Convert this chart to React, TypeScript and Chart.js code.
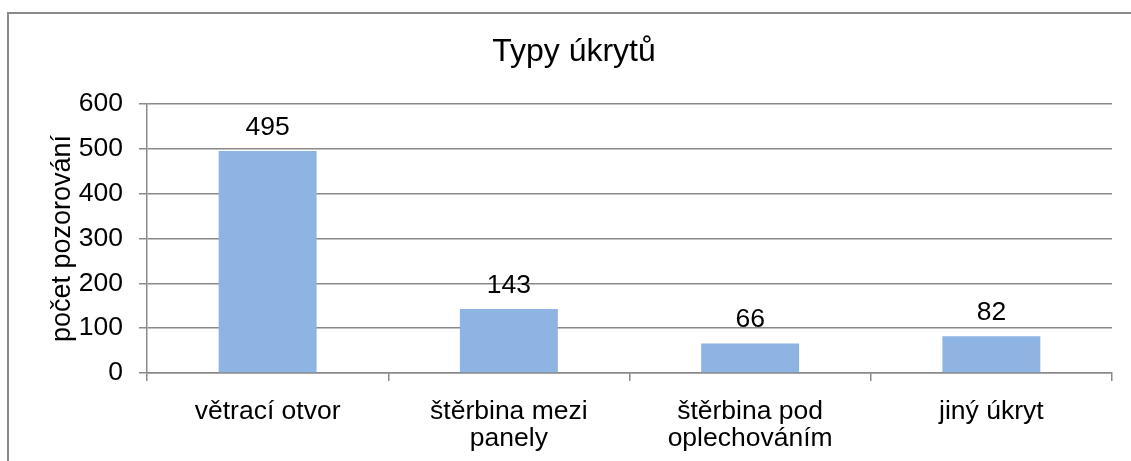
import React, { useEffect, useRef } from "react";
import { Chart, registerables } from "chart.js";

Chart.register(...registerables);

const chartTitle = "Typy úkrytů";
const yAxisTitle = "počet pozorování";
const categories: (string | string[])[] = [
  "větrací otvor",
  ["štěrbina mezi", "panely"],
  ["štěrbina pod", "oplechováním"],
  "jiný úkryt",
];
const values = [495, 143, 66, 82];
const yMin = 0;
const yMax = 600;
const yStep = 100;

const FONT = "'Liberation Sans', Arial, sans-serif";
const TICK_SIZE = 26.5;

const valueLabels = {
  id: "valueLabels",
  afterDatasetsDraw(chart: any) {
    const ctx = chart.ctx;
    const meta = chart.getDatasetMeta(0);
    const data = chart.data.datasets[0].data as number[];
    ctx.save();
    ctx.font = `${TICK_SIZE}px ${FONT}`;
    ctx.fillStyle = "#000";
    ctx.textAlign = "center";
    ctx.textBaseline = "alphabetic";
    meta.data.forEach((bar: any, i: number) => {
      ctx.fillText(String(data[i]), bar.x, bar.y - 16);
    });
    ctx.restore();
  },
};

export default function App() {
  const ref = useRef<HTMLCanvasElement | null>(null);
  useEffect(() => {
    if (!ref.current) return;
    const chart = new Chart(ref.current, {
      type: "bar",
      data: {
        labels: categories,
        datasets: [
          {
            data: values,
            yAxisID: "y",
            backgroundColor: "#8DB4E2",
            borderWidth: 0,
            categoryPercentage: 1,
            barPercentage: 0.406,
          },
        ],
      },
      options: {
        responsive: false,
        animation: false,
        devicePixelRatio: 1,
        layout: { padding: { left: 17, right: 0, top: 0, bottom: 0 } },
        plugins: {
          legend: { display: false },
          tooltip: { enabled: false },
          title: {
            display: true,
            text: chartTitle,
            color: "#000",
            font: { family: FONT, size: 32, weight: "normal" },
            padding: { top: 33, bottom: 32.6 },
          },
        },
        scales: {
          x: {
            afterFit: (s: any) => {
              s.height = 88;
            },
            grid: {
              display: true,
              offset: true,
              drawOnChartArea: false,
              drawTicks: true,
              tickLength: 8,
              color: "#8a8a8a",
              lineWidth: 1.5,
            },
            border: { display: true, color: "#8a8a8a", width: 1.5 },
            ticks: {
              color: "#000",
              font: { family: FONT, size: TICK_SIZE, lineHeight: 1.02 },
              padding: 17,
              maxRotation: 0,
              autoSkip: false,
            },
          },
          y: {
            min: yMin,
            max: yMax,
            afterFit: (s: any) => {
              s.width = 130;
            },
            grid: {
              color: "#8a8a8a",
              lineWidth: 1.5,
              drawTicks: true,
              tickLength: 8,
            },
            border: { display: true, color: "#8a8a8a", width: 1.5 },
            ticks: {
              stepSize: yStep,
              color: "#000",
              font: { family: FONT, size: TICK_SIZE },
              padding: 16,
            },
            title: {
              display: true,
              text: yAxisTitle,
              color: "#000",
              font: { family: FONT, size: 27 },
              padding: { top: 29, bottom: 0 },
            },
          },
          yRight: {
            position: "right",
            display: true,
            afterFit: (s: any) => {
              s.width = 19;
            },
            grid: { display: false, drawTicks: false },
            border: { display: false },
            ticks: { display: false },
          },
        },
      },
      plugins: [valueLabels],
    });
    return () => chart.destroy();
  }, []);

  return (
    <div
      style={{
        position: "fixed",
        left: 0,
        top: 0,
        width: 1131,
        height: 461,
        background: "#fff",
        overflow: "hidden",
      }}
    >
      <div
        style={{
          position: "absolute",
          left: 7,
          top: 12,
          width: 1200,
          height: 600,
          border: "2px solid #898989",
          boxSizing: "border-box",
        }}
      />
      <canvas
        ref={ref}
        width={1131}
        height={461}
        style={{ position: "absolute", left: 0, top: 0, width: 1131, height: 461 }}
      />
    </div>
  );
}
